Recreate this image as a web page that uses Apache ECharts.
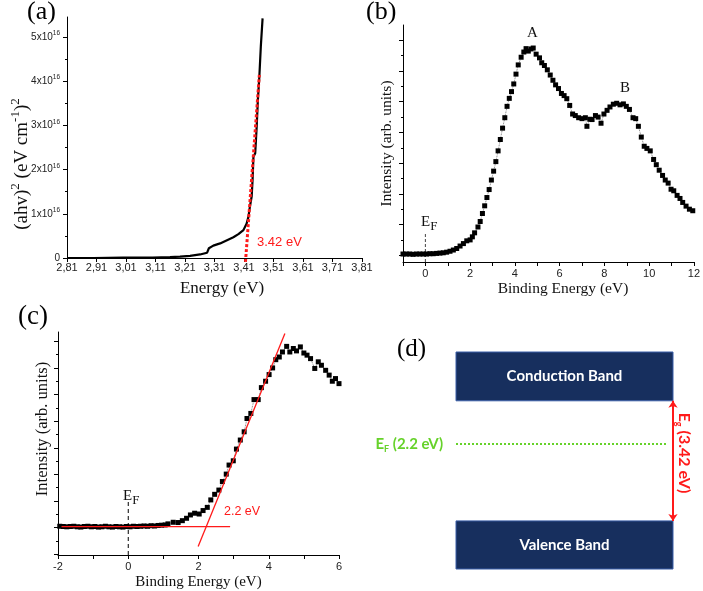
<!DOCTYPE html>
<html><head><meta charset="utf-8">
<script src="https://cdn.jsdelivr.net/npm/echarts@6/dist/echarts.min.js"></script>
<style>html,body{margin:0;padding:0;background:#fff}#c{width:703px;height:591px}</style>
</head><body><div id="c"></div>
<script>
// ---------- Panel (a): Tauc plot ----------
const aEnergy = [2.81, 2.9, 3.0, 3.05, 3.1, 3.159, 3.193, 3.227, 3.261, 3.285, 3.291, 3.306, 3.329, 3.374, 3.391, 3.408, 3.419, 3.425, 3.430, 3.436, 3.439, 3.442, 3.448, 3.453, 3.457, 3.462, 3.467, 3.473];
const aAbsSq = [0.0, 0.0, 0.01, 0.01, 0.01, 0.02, 0.03, 0.05, 0.08, 0.12, 0.22, 0.28, 0.33, 0.47, 0.54, 0.63, 0.78, 0.93, 1.16, 1.39, 1.76, 2.29, 2.37, 2.97, 3.57, 4.10, 4.78, 5.42]; // x10^16
const aFitEnergy = [3.415, 3.462];
const aFitAbsSq = [-0.09, 4.14];
const aXTicks = [2.81, 2.91, 3.01, 3.11, 3.21, 3.31, 3.41, 3.51, 3.61, 3.71, 3.81];
const aYTicks = [0, 1, 2, 3, 4, 5];
const aYMinor = [0.5, 1.5, 2.5, 3.5, 4.5];

// ---------- Panel (b): valence band spectrum ----------
const bEnergy = [-1.0, -0.85, -0.7, -0.55, -0.4, -0.25, -0.1, 0.05, 0.2, 0.35, 0.5, 0.65, 0.8, 0.95, 1.1, 1.25, 1.4, 1.55, 1.7, 1.85, 2.0, 2.1, 2.2, 2.35, 2.45, 2.55, 2.65, 2.75, 2.85, 2.95, 3.05, 3.15, 3.25, 3.35, 3.45, 3.55, 3.65, 3.75, 3.85, 3.95, 4.05, 4.15, 4.28, 4.4, 4.5, 4.6, 4.72, 4.82, 4.95, 5.1, 5.2, 5.32, 5.45, 5.58, 5.7, 5.82, 5.95, 6.08, 6.2, 6.32, 6.45, 6.58, 6.7, 6.85, 7.0, 7.15, 7.22, 7.35, 7.45, 7.6, 7.72, 7.85, 7.98, 8.12, 8.25, 8.4, 8.55, 8.7, 8.85, 8.98, 9.12, 9.28, 9.4, 9.52, 9.65, 9.78, 9.9, 10.05, 10.2, 10.32, 10.45, 10.6, 10.72, 10.85, 10.98, 11.1, 11.25, 11.38, 11.5, 11.65, 11.8, 11.95];
const bIntensity = [0.04, 0.04, 0.04, 0.03, 0.04, 0.04, 0.04, 0.04, 0.05, 0.05, 0.06, 0.07, 0.08, 0.1, 0.13, 0.17, 0.22, 0.3, 0.38, 0.47, 0.5, 0.6, 0.73, 0.92, 1.1, 1.36, 1.61, 1.88, 2.14, 2.45, 2.74, 3.05, 3.4, 3.77, 4.14, 4.48, 4.85, 5.11, 5.33, 5.58, 5.9, 6.2, 6.45, 6.62, 6.73, 6.65, 6.72, 6.75, 6.55, 6.43, 6.27, 6.18, 6.04, 5.87, 5.7, 5.55, 5.43, 5.27, 5.2, 5.1, 4.88, 4.6, 4.55, 4.48, 4.45, 4.48, 4.2, 4.43, 4.42, 4.55, 4.5, 4.3, 4.6, 4.72, 4.83, 4.92, 4.95, 4.9, 4.93, 4.85, 4.75, 4.48, 4.45, 4.2, 3.85, 3.55, 3.48, 3.4, 3.12, 2.95, 2.77, 2.6, 2.45, 2.35, 2.15, 2.1, 1.95, 1.85, 1.72, 1.6, 1.5, 1.45];
const bXTicks = [-1, 0, 1, 2, 3, 4, 5, 6, 7, 8, 9, 10, 11, 12];
const bXLabels = [0, 2, 4, 6, 8, 10, 12];
const bYTicks = [0, 1, 2, 3, 4, 5, 6, 7];
const bYMinor = [0.5, 1.5, 2.5, 3.5, 4.5, 5.5, 6.5];
const bFermiE = [0, 0];
const bFermiI = [-0.22, 0.75];

// ---------- Panel (c): valence band edge ----------
const cEnergy = [-1.95, -1.85, -1.75, -1.65, -1.55, -1.45, -1.35, -1.25, -1.15, -1.05, -0.95, -0.85, -0.75, -0.65, -0.55, -0.45, -0.35, -0.25, -0.15, -0.05, 0.05, 0.15, 0.25, 0.35, 0.45, 0.55, 0.65, 0.75, 0.85, 0.95, 1.05, 1.13, 1.28, 1.42, 1.54, 1.66, 1.77, 1.89, 2.02, 2.13, 2.25, 2.35, 2.46, 2.58, 2.68, 2.79, 2.87, 2.99, 3.08, 3.19, 3.30, 3.38, 3.49, 3.58, 3.70, 3.79, 3.91, 4.01, 4.11, 4.20, 4.30, 4.39, 4.51, 4.60, 4.70, 4.79, 4.90, 5.00, 5.09, 5.19, 5.31, 5.41, 5.50, 5.62, 5.72, 5.81, 5.90, 6.00];
const cIntensity = [0.05, 0.04, 0.03, 0.04, 0.05, 0.03, 0.02, 0.04, 0.05, 0.03, 0.04, 0.02, 0.03, 0.05, 0.03, 0.02, 0.04, 0.03, 0.02, 0.04, 0.03, 0.05, 0.04, 0.05, 0.06, 0.05, 0.07, 0.06, 0.08, 0.09, 0.1, 0.14, 0.2, 0.19, 0.26, 0.35, 0.475, 0.54, 0.51, 0.64, 0.76, 1.04, 1.25, 1.41, 1.73, 2.01, 2.35, 2.51, 2.95, 3.29, 3.6, 4.1, 4.29, 4.81, 4.81, 5.26, 5.5, 5.75, 6.0, 6.31, 6.41, 6.6, 6.81, 6.6, 6.73, 6.64, 6.79, 6.56, 6.48, 6.35, 5.98, 6.23, 6.1, 5.91, 5.73, 5.5, 5.6, 5.41];
const cXTicks = [-2, -1, 0, 1, 2, 3, 4, 5, 6];
const cXLabels = [-2, 0, 2, 4, 6];
const cYTicks = [-1, 0, 1, 2, 3, 4, 5, 6, 7];
const cYMinor = [-0.5, 0.5, 1.5, 2.5, 3.5, 4.5, 5.5, 6.5];
const cFermiE = [0, 0];
const cFermiI = [-1.03, 0.97];
const cBaseFitE = [-1.9, 2.9];
const cBaseFitI = [0.04, 0.04];
const cEdgeFitE = [1.99, 4.46];
const cEdgeFitI = [-0.71, 7.29];

// ---------- Panel (d): band diagram (eV, relative to VB top) ----------
const bandGap = 3.42;
const fermiLevel = 2.2;
const cbTop = 4.81;
const vbBottom = -1.37;

const zip = (xs, ys) => xs.map((x, i) => [x, ys[i]]);
const SERIF = '"Liberation Serif", "Times New Roman", serif';
const SANS = '"Liberation Sans", Arial, sans-serif';
const CAL = 'Lato, "Open Sans", sans-serif';

const axLine = { show: true, onZero: false, lineStyle: { color: '#000', width: 1 } };
const lbl = { fontFamily: SANS, fontSize: 11, color: '#222' };

function xAx(grid, min, max, ticks, labels, fmt, margin) {
  return { type: 'value', gridIndex: grid, min, max, axisLine: axLine,
    axisTick: { show: true, customValues: ticks, length: 4, lineStyle: { color: '#000' } },
    axisLabel: Object.assign({ show: true, customValues: labels, margin, formatter: fmt }, lbl),
    splitLine: { show: false } };
}
function yAx(grid, min, max, ticks, labelOpt) {
  return { type: 'value', gridIndex: grid, position: 'left', min, max, axisLine: axLine,
    axisTick: { show: true, customValues: ticks, length: 4, lineStyle: { color: '#000' } },
    axisLabel: labelOpt || { show: false }, splitLine: { show: false } };
}
function yMinor(grid, min, max, ticks) {
  return { type: 'value', gridIndex: grid, position: 'left', min, max, axisLine: { show: false, onZero: false },
    axisTick: { show: true, customValues: ticks, length: 2, lineStyle: { color: '#000' } },
    axisLabel: { show: false }, splitLine: { show: false } };
}

const chart = echarts.init(document.getElementById('c'), null, { renderer: 'canvas' });
const option = {
  backgroundColor: '#fff',
  animation: false,
  grid: [
    { left: 67, top: 17, width: 295, height: 241 },
    { left: 403, top: 25, width: 291, height: 237 },
    { left: 58, top: 332, width: 281, height: 223 },
    { left: 456, top: 352, width: 217, height: 217 }
  ],
  xAxis: [
    xAx(0, 2.81, 3.81, aXTicks, aXTicks, v => v.toFixed(2).replace('.', ','), 4),
    xAx(1, -1, 12, bXTicks, bXLabels, v => String(v), 6),
    xAx(2, -2, 6, cXTicks, cXLabels, v => String(v), 6),
    { type: 'value', gridIndex: 3, min: 0, max: 1, show: false }
  ],
  yAxis: [
    yAx(0, 0, 5.45, aYTicks, {
      show: true, customValues: aYTicks, margin: 7,
      formatter: v => v === 0 ? '{b|0}' : '{b|' + v + 'x10}{s|16}',
      rich: {
        b: { fontFamily: SANS, fontSize: 10, color: '#222', lineHeight: 14 },
        s: { fontFamily: SANS, fontSize: 6.5, color: '#222', verticalAlign: 'top' }
      }
    }),
    yMinor(0, 0, 5.45, aYMinor),
    yAx(1, -0.22, 7.5, bYTicks),
    yMinor(1, -0.22, 7.5, bYMinor),
    yAx(2, -1.03, 7.35, cYTicks),
    yMinor(2, -1.03, 7.35, cYMinor),
    { type: 'value', gridIndex: 3, min: vbBottom, max: cbTop, show: false }
  ],
  series: [
    { type: 'line', xAxisIndex: 0, yAxisIndex: 0, data: zip(aEnergy, aAbsSq), showSymbol: false,
      lineStyle: { color: '#000', width: 2.2 }, z: 3 },
    { type: 'line', xAxisIndex: 0, yAxisIndex: 0, data: zip(aFitEnergy, aFitAbsSq), showSymbol: false, clip: false,
      lineStyle: { color: '#ff1a1a', width: 3, type: [3, 2] }, z: 4 },
    { type: 'line', xAxisIndex: 1, yAxisIndex: 2, data: zip(bEnergy, bIntensity), symbol: 'rect', symbolSize: 5,
      itemStyle: { color: '#000' }, lineStyle: { color: '#555', width: 0.8, type: 'dotted' } },
    { type: 'line', xAxisIndex: 1, yAxisIndex: 2, data: zip(bFermiE, bFermiI), showSymbol: false, clip: false,
      lineStyle: { color: '#444', width: 1, type: [3, 2] } },
    { type: 'line', xAxisIndex: 2, yAxisIndex: 4, data: zip(cEnergy, cIntensity), symbol: 'rect', symbolSize: 5,
      itemStyle: { color: '#000' }, lineStyle: { color: '#555', width: 0.8, type: 'dotted' } },
    { type: 'line', xAxisIndex: 2, yAxisIndex: 4, data: zip(cFermiE, cFermiI), showSymbol: false, clip: false,
      lineStyle: { color: '#000', width: 1, type: [4, 3] } },
    { type: 'line', xAxisIndex: 2, yAxisIndex: 4, data: zip(cBaseFitE, cBaseFitI), showSymbol: false,
      lineStyle: { color: '#ff1a1a', width: 1.3 }, z: 4 },
    { type: 'line', xAxisIndex: 2, yAxisIndex: 4, data: zip(cEdgeFitE, cEdgeFitI), showSymbol: false, clip: false,
      lineStyle: { color: '#ff1a1a', width: 1.3 }, z: 4 },
    { type: 'line', xAxisIndex: 3, yAxisIndex: 6, data: [[0.5, fermiLevel]], showSymbol: false,
      lineStyle: { width: 0 },
      markArea: { silent: true,
        itemStyle: { color: '#172f5e', borderColor: '#3a5fa8', borderWidth: 1 },
        label: { show: true, position: 'inside', color: '#fff', fontFamily: CAL, fontWeight: 'bold', fontSize: 15, formatter: '{b}' },
        data: [
          [{ name: 'Conduction Band', coord: [0, bandGap] }, { coord: [1, cbTop] }],
          [{ name: 'Valence Band', coord: [0, vbBottom] }, { coord: [1, 0] }]
        ] },
      markLine: { silent: true, label: { show: false },
        data: [
          [{ coord: [0, fermiLevel], symbol: 'none', lineStyle: { color: '#66d22a', width: 2, type: [2, 2] } },
           { coord: [0.972, fermiLevel], symbol: 'none' }],
          [{ coord: [1, 0], symbol: 'arrow', symbolSize: 7, lineStyle: { color: '#ff1a1a', width: 2, type: 'solid' } },
           { coord: [1, bandGap], symbol: 'arrow', symbolSize: 7 }]
        ] } }
  ],
  graphic: [
    { type: 'text', x: 27, y: -1, style: { text: '(a)', fontFamily: SERIF, fontSize: 26, fill: '#000' } },
    { type: 'text', x: 366, y: -1, style: { text: '(b)', fontFamily: SERIF, fontSize: 26, fill: '#000' } },
    { type: 'text', x: 18, y: 303, style: { text: '(c)', fontFamily: SERIF, fontSize: 27, fill: '#000' } },
    { type: 'text', x: 397, y: 337, style: { text: '(d)', fontFamily: SERIF, fontSize: 25, fill: '#000' } },
    // axis titles
    { type: 'text', x: 222, y: 289, style: { text: 'Energy (eV)', fontFamily: SERIF, fontSize: 17, fill: '#111', align: 'center', verticalAlign: 'middle' } },
    { type: 'text', x: 22, y: 164, rotation: Math.PI / 2, style: {
      text: '{t|(ahv)}{p|2}{t| (eV cm}{p|-1}{t|)}{p|2}', align: 'center', verticalAlign: 'middle',
      rich: { t: { fontFamily: SERIF, fontSize: 19, fill: '#111', lineHeight: 26 },
              p: { fontFamily: SERIF, fontSize: 13, fill: '#111', verticalAlign: 'top' } } } },
    { type: 'text', x: 563, y: 289, style: { text: 'Binding Energy (eV)', fontFamily: SERIF, fontSize: 15.5, fill: '#111', align: 'center', verticalAlign: 'middle' } },
    { type: 'text', x: 387, y: 143.5, rotation: Math.PI / 2, style: { text: 'Intensity (arb. units)', fontFamily: SERIF, fontSize: 15.5, fill: '#111', align: 'center', verticalAlign: 'middle' } },
    { type: 'text', x: 198.5, y: 582, style: { text: 'Binding Energy (eV)', fontFamily: SERIF, fontSize: 15, fill: '#111', align: 'center', verticalAlign: 'middle' } },
    { type: 'text', x: 43, y: 429, rotation: Math.PI / 2, style: { text: 'Intensity (arb. units)', fontFamily: SERIF, fontSize: 16.5, fill: '#111', align: 'center', verticalAlign: 'middle' } },
    // annotations
    { type: 'text', x: 257, y: 242, style: { text: '3.42 eV', fontFamily: SANS, fontSize: 13, fill: '#ff1a1a', verticalAlign: 'middle' } },
    { type: 'text', x: 224, y: 512, style: { text: '2.2 eV', fontFamily: SANS, fontSize: 12.5, fill: '#ff1a1a', verticalAlign: 'middle' } },
    { type: 'text', x: 532.5, y: 33, style: { text: 'A', fontFamily: SERIF, fontSize: 15, fill: '#111', align: 'center', verticalAlign: 'middle' } },
    { type: 'text', x: 625, y: 88, style: { text: 'B', fontFamily: SERIF, fontSize: 15, fill: '#111', align: 'center', verticalAlign: 'middle' } },
    { type: 'text', x: 421, y: 222, style: { text: '{e|E}{s|F}', verticalAlign: 'middle',
      rich: { e: { fontFamily: SERIF, fontSize: 15, fill: '#111', lineHeight: 23 }, s: { fontFamily: SERIF, fontSize: 13, fill: '#111', verticalAlign: 'bottom' } } } },
    { type: 'text', x: 123, y: 496, style: { text: '{e|E}{s|F}', verticalAlign: 'middle',
      rich: { e: { fontFamily: SERIF, fontSize: 15, fill: '#111', lineHeight: 23 }, s: { fontFamily: SERIF, fontSize: 13, fill: '#111', verticalAlign: 'bottom' } } } },
    { type: 'text', x: 443, y: 444, style: { text: '{e|E}{s|F}{e| (2.2 eV)}', align: 'right', verticalAlign: 'middle',
      rich: { e: { fontFamily: CAL, fontWeight: 'bold', fontSize: 15, fill: '#66d22a', lineHeight: 20 }, s: { fontFamily: CAL, fontWeight: 'bold', fontSize: 9, fill: '#66d22a', verticalAlign: 'bottom' } } } },
    { type: 'text', x: 684, y: 453, rotation: -Math.PI / 2, style: { text: '{e|E}{s|g}{e| (3.42 eV)}', align: 'center', verticalAlign: 'middle',
      rich: { e: { fontFamily: CAL, fontWeight: 'bold', fontSize: 16, fill: '#ff1a1a', lineHeight: 20 }, s: { fontFamily: CAL, fontWeight: 'bold', fontSize: 9, fill: '#ff1a1a', verticalAlign: 'bottom' } } } }
  ]
};
chart.setOption(option);
</script></body></html>
